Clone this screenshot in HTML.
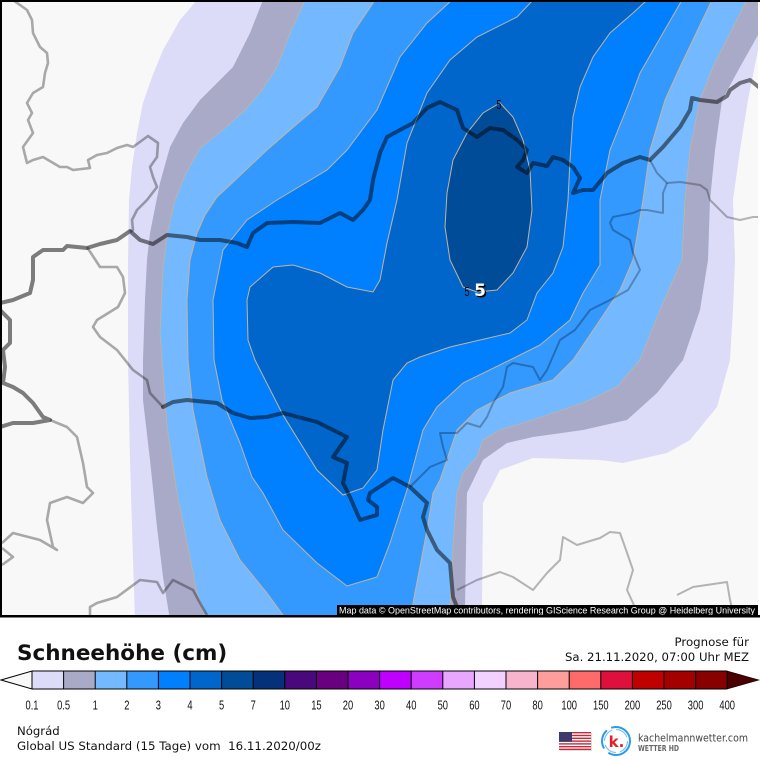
<!DOCTYPE html>
<html><head><meta charset="utf-8"><style>
html,body{margin:0;padding:0;background:#fff;}
svg{display:block;}
</style></head><body>
<svg width="760" height="760" viewBox="0 0 760 760" xmlns="http://www.w3.org/2000/svg">
<defs><clipPath id="mc"><rect x="2" y="2" width="756" height="613"/></clipPath></defs>
<rect x="0" y="0" width="760" height="760" fill="#ffffff"/>
<g clip-path="url(#mc)">
<rect x="0" y="0" width="760" height="620" fill="#f8f8f8"/>
<!-- >0.1 -->
<path fill="#dcdcf8" d="M197,0 L180,20 L163,50 L152,77 L143,103 L137,133 L132,167 L129,200 L128,260 L128,360 L130,460 L133,560 L135,620 L482,620 L482,607 L483,503 L500,470 L533,458 L600,460 L623,463 L667,453 L690,440 L717,407 L730,360 L733,310 L735,260 L733,200 L740,150 L748,100 L758,50 L760,40 L760,0 Z"/>
<!-- >0.5 -->
<path fill="#a9a9c8" d="M263,0 L250,33 L233,67 L200,100 L183,123 L170,147 L160,183 L150,233 L147,260 L145,300 L143,360 L143,400 L150,460 L157,527 L163,577 L170,620 L465,620 L465,607 L467,493 L483,460 L507,443 L533,437 L583,430 L627,420 L657,393 L683,360 L700,310 L708,260 L710,200 L715,150 L722,100 L740,67 L758,35 L760,30 L760,0 Z"/>
<!-- >1 -->
<path fill="#74b9ff" stroke="#c4b49c" stroke-width="0.8" d="M305,0 L290,33 L277,67 L262,90 L245,110 L225,128 L200,148 L185,175 L175,200 L168,230 L163,267 L160,333 L162,360 L167,427 L177,493 L187,543 L197,593 L207,620 L448,620 L450,607 L453,547 L457,493 L463,473 L477,457 L483,440 L500,430 L533,420 L583,403 L617,387 L640,360 L660,310 L682,260 L685,200 L690,150 L700,100 L713,67 L747,0 Z"/>
<!-- >2 -->
<path fill="#3399ff" stroke="#c4b49c" stroke-width="1" d="M375,0 L353,33 L340,67 L317,107 L290,130 L267,150 L230,185 L217,197 L205,215 L197,233 L190,260 L187,300 L188,360 L193,410 L207,477 L220,520 L240,560 L267,593 L283,615 L290,620 L410,620 L413,603 L427,530 L433,493 L440,480 L457,430 L477,410 L510,393 L553,380 L573,360 L600,320 L620,290 L633,260 L643,200 L650,150 L665,100 L680,67 L712,0 Z"/>
<!-- >3 -->
<path fill="#0080ff" stroke="#c4b49c" stroke-width="1" d="M452,0 L427,23 L400,57 L377,110 L347,150 L327,170 L277,200 L247,220 L223,250 L213,300 L214,360 L222,400 L240,443 L252,477 L263,493 L283,530 L317,563 L347,586 L377,577 L390,543 L407,490 L423,430 L437,407 L463,383 L510,360 L540,345 L570,320 L583,293 L600,265 L600,200 L610,150 L630,100 L640,73 L682,0 Z"/>
<!-- >4 -->
<path fill="#0066cc" stroke="#c4b49c" stroke-width="1" d="M533,0 L517,17 L477,37 L450,60 L427,93 L407,143 L397,200 L387,243 L380,280 L373,292 L347,287 L320,273 L293,265 L273,267 L250,287 L247,300 L248,340 L255,360 L283,415 L317,470 L343,495 L363,488 L377,470 L383,430 L393,380 L407,363 L420,357 L450,347 L510,333 L527,320 L537,293 L553,273 L563,247 L568,200 L570,160 L573,117 L580,87 L593,57 L610,33 L633,13 L647,0 Z"/>
<!-- >5 -->
<path fill="#004c99" stroke="#c4b49c" stroke-width="1" d="M500,103 L513,117 L523,140 L530,170 L532,210 L527,247 L513,273 L497,290 L477,292 L463,287 L450,260 L445,227 L447,193 L453,160 L467,133 L483,113 Z"/>

<!-- light county lines -->
<g fill="none" stroke="rgba(0,0,0,0.32)" stroke-width="2.6" stroke-linejoin="round">
<path d="M13,0 L27,10 L32,20 L33,33 L40,47 L47,53 L48,63 L45,73 L43,87 L33,93 L27,103 L32,113 L28,120 L33,133 L23,147 L27,163 L33,160 L43,157 L60,167 L67,167 L73,170 L90,168 L88,160 L97,155 L107,153 L117,148 L127,145 L133,147 L148,136 L158,143 L157,157 L150,167 L153,177 L157,187 L147,200 L137,210 L132,220 L133,230 L130,232"/>
<path d="M87,247 L100,267 L117,267 L123,277 L125,293 L118,307 L97,320 L93,327 L100,337 L117,350 L133,370 L147,380 L150,393 L163,407"/>
<path d="M50,420 L67,427 L77,437 L83,463 L87,487 L93,493 L83,503 L67,497 L50,503 L47,520 L53,547 L57,550 L40,540 L13,533 L2,543"/>
<path d="M2,548 L13,557 L2,565"/>
<path d="M90,620 L90,607 L97,603 L117,597 L140,580 L157,582 L163,593 L173,580 L193,590 L200,603 L207,615"/>
</g>
<g fill="none" stroke="rgba(0,0,0,0.28)" stroke-width="2" stroke-linejoin="round">
<path d="M457,590 L477,580 L500,572 L513,577 L533,590 L547,573 L560,560 L563,537 L577,545 L600,538 L610,532 L620,533 L625,547 L633,570 L627,590 L633,603 L640,620"/>
<path d="M677,595 L693,587 L727,582 L730,600 L735,620"/>
<path d="M650,160 L657,173 L667,183 L680,182 L700,185 L707,190 L710,200 L720,210 L727,217 L740,220 L753,217 L760,217"/>
<path d="M667,183 L663,193 L663,213 L647,210 L640,210 L633,213 L613,217 L610,223 L613,230 L630,240 L633,253 L640,270 L628,290 L610,300 L590,310 L575,330 L560,340 L547,370 L540,380 L533,367 L513,363 L507,367 L503,387 L493,403 L487,417 L480,427 L467,423 L457,433 L440,433 L443,447 L447,460 L430,467 L410,487"/>
</g>
<!-- thick borders -->
<g fill="none" stroke="rgba(0,0,0,0.5)" stroke-width="4" stroke-linejoin="round" stroke-linecap="round">
<path d="M0,303 L13,300 L30,293 L33,280 L33,257 L43,250 L63,250 L67,246 L87,248 L100,244 L117,240 L130,231 L140,240 L153,244 L167,235 L187,237 L200,240 L220,240 L237,243 L247,247 L253,233 L267,223 L293,222 L320,223 L340,213 L353,220 L363,210 L370,200 L373,180 L380,153 L387,137 L400,130 L413,123 L427,108 L440,102 L457,110 L463,128 L477,137 L490,128 L503,130 L517,140 L527,150 L523,160 L517,167 L527,173 L533,163 L547,166 L553,157 L563,160 L573,167 L580,178 L573,193 L583,190 L593,190 L607,173 L623,163 L640,157 L650,160 L663,147 L680,127 L690,110 L692,98 L700,100 L717,102 L727,96 L730,90 L740,83 L750,80 L760,88"/>
<path d="M0,310 L10,320 L10,343 L3,350 L5,367 L3,383 L13,387 L23,393 L33,403 L43,417 L50,420 L33,423 L13,423 L0,427"/>
<path d="M163,407 L173,402 L187,400 L217,403 L233,413 L250,418 L267,417 L283,413 L317,422 L347,437 L333,457 L347,463 L343,483 L350,497 L360,520 L377,515 L377,507 L368,500 L370,493 L393,478 L410,487 L427,503 L423,517 L427,530 L437,550 L450,563 L453,597 L457,607 L460,620"/>
</g>
<!-- labels -->
<text transform="translate(499,109) scale(0.72,1)" font-family="Liberation Sans, sans-serif" font-size="13" text-anchor="middle" fill="#000">5</text>
<text transform="translate(467,296) scale(0.72,1)" font-family="Liberation Sans, sans-serif" font-size="13" text-anchor="middle" fill="#000">5</text>
<text x="481.5" y="297.5" font-family="DejaVu Sans, sans-serif" font-weight="bold" font-size="17" text-anchor="middle" fill="#000">5</text>
<text x="480" y="296" font-family="DejaVu Sans, sans-serif" font-weight="bold" font-size="17" text-anchor="middle" fill="#fff">5</text>
<!-- attribution -->
<rect x="337" y="605" width="423" height="11" fill="#000"/>
<text x="339" y="613.5" font-family="Liberation Sans, sans-serif" font-size="9" fill="#fff" textLength="416" lengthAdjust="spacingAndGlyphs">Map data © OpenStreetMap contributors, rendering GIScience Research Group @ Heidelberg University</text>
</g>
<!-- frame -->
<rect x="0" y="0" width="760" height="2" fill="#000"/>
<rect x="0" y="0" width="2" height="617" fill="#000"/>
<rect x="0" y="615" width="760" height="2.5" fill="#000"/>

<!-- Legend -->
<text x="17" y="660" font-family="DejaVu Sans, sans-serif" font-weight="bold" font-size="21.5" fill="#111">Schneehöhe (cm)</text>
<text x="749" y="646" font-family="DejaVu Sans, sans-serif" font-size="11.8" text-anchor="end" fill="#111">Prognose für</text>
<text x="749" y="661" font-family="DejaVu Sans, sans-serif" font-size="11.8" text-anchor="end" fill="#111" textLength="184" lengthAdjust="spacingAndGlyphs">Sa. 21.11.2020, 07:00 Uhr MEZ</text>

<polygon points="1,680 32,671 32,689" fill="#f8f8f8" stroke="#000" stroke-width="1"/>
<polygon points="727.2,671 759,680 727.2,689" fill="#4a0000" stroke="#000" stroke-width="0.6"/>
<g stroke="none">
<rect x="32" y="671" width="31.6" height="18" fill="#dcdcf8"/>
<rect x="63.6" y="671" width="31.6" height="18" fill="#a9a9c8"/>
<rect x="95.2" y="671" width="31.6" height="18" fill="#74b9ff"/>
<rect x="126.8" y="671" width="31.6" height="18" fill="#3399ff"/>
<rect x="158.4" y="671" width="31.6" height="18" fill="#0080ff"/>
<rect x="190" y="671" width="31.6" height="18" fill="#0066cc"/>
<rect x="221.6" y="671" width="31.6" height="18" fill="#004c99"/>
<rect x="253.2" y="671" width="31.6" height="18" fill="#05307a"/>
<rect x="284.8" y="671" width="31.6" height="18" fill="#4a087d"/>
<rect x="316.4" y="671" width="31.6" height="18" fill="#690080"/>
<rect x="348" y="671" width="31.6" height="18" fill="#8c00c0"/>
<rect x="379.6" y="671" width="31.6" height="18" fill="#bf00ff"/>
<rect x="411.2" y="671" width="31.6" height="18" fill="#d03cff"/>
<rect x="442.8" y="671" width="31.6" height="18" fill="#e8a6ff"/>
<rect x="474.4" y="671" width="31.6" height="18" fill="#f2d0ff"/>
<rect x="506" y="671" width="31.6" height="18" fill="#f8b4cc"/>
<rect x="537.6" y="671" width="31.6" height="18" fill="#ff9c9c"/>
<rect x="569.2" y="671" width="31.6" height="18" fill="#ff6a6a"/>
<rect x="600.8" y="671" width="31.6" height="18" fill="#e0103c"/>
<rect x="632.4" y="671" width="31.6" height="18" fill="#c00000"/>
<rect x="664" y="671" width="31.6" height="18" fill="#a50000"/>
<rect x="695.6" y="671" width="31.6" height="18" fill="#880000"/>
</g>
<g stroke="#000" stroke-width="1" fill="none">
<line x1="32" y1="671" x2="727.2" y2="671"/>
<line x1="32" y1="689" x2="727.2" y2="689"/>
<path d="M32,671V689M63.6,671V689M95.2,671V689M126.8,671V689M158.4,671V689M190,671V689M221.6,671V689M253.2,671V689M284.8,671V689M316.4,671V689M348,671V689M379.6,671V689M411.2,671V689M442.8,671V689M474.4,671V689M506,671V689M537.6,671V689M569.2,671V689M600.8,671V689M632.4,671V689M664,671V689M695.6,671V689M727.2,671V689"/>
</g>
<g font-family="Liberation Sans, sans-serif" font-size="13" fill="#111" text-anchor="middle">
<text transform="translate(32,709.5) scale(0.72,1)">0.1</text>
<text transform="translate(63.6,709.5) scale(0.72,1)">0.5</text>
<text transform="translate(95.2,709.5) scale(0.72,1)">1</text>
<text transform="translate(126.8,709.5) scale(0.72,1)">2</text>
<text transform="translate(158.4,709.5) scale(0.72,1)">3</text>
<text transform="translate(190,709.5) scale(0.72,1)">4</text>
<text transform="translate(221.6,709.5) scale(0.72,1)">5</text>
<text transform="translate(253.2,709.5) scale(0.72,1)">7</text>
<text transform="translate(284.8,709.5) scale(0.72,1)">10</text>
<text transform="translate(316.4,709.5) scale(0.72,1)">15</text>
<text transform="translate(348,709.5) scale(0.72,1)">20</text>
<text transform="translate(379.6,709.5) scale(0.72,1)">30</text>
<text transform="translate(411.2,709.5) scale(0.72,1)">40</text>
<text transform="translate(442.8,709.5) scale(0.72,1)">50</text>
<text transform="translate(474.4,709.5) scale(0.72,1)">60</text>
<text transform="translate(506,709.5) scale(0.72,1)">70</text>
<text transform="translate(537.6,709.5) scale(0.72,1)">80</text>
<text transform="translate(569.2,709.5) scale(0.72,1)">100</text>
<text transform="translate(600.8,709.5) scale(0.72,1)">150</text>
<text transform="translate(632.4,709.5) scale(0.72,1)">200</text>
<text transform="translate(664,709.5) scale(0.72,1)">250</text>
<text transform="translate(695.6,709.5) scale(0.72,1)">300</text>
<text transform="translate(727.2,709.5) scale(0.72,1)">400</text>
</g>

<text x="17" y="735" font-family="DejaVu Sans, sans-serif" font-size="11.7" fill="#111">Nógrád</text>
<text x="17" y="750" font-family="DejaVu Sans, sans-serif" font-size="11.7" fill="#111" xml:space="preserve" textLength="304" lengthAdjust="spacingAndGlyphs">Global US Standard (15 Tage) vom  16.11.2020/00z</text>

<!-- US flag -->
<g>
<rect x="560" y="733" width="32" height="18" fill="#bbb" opacity="0.5"/>
<rect x="559" y="732" width="32" height="18" fill="#fff"/>
<g fill="#c8283c">
<rect x="559" y="732" width="32" height="1.4"/>
<rect x="559" y="734.8" width="32" height="1.4"/>
<rect x="559" y="737.6" width="32" height="1.4"/>
<rect x="559" y="740.4" width="32" height="1.4"/>
<rect x="559" y="743.2" width="32" height="1.4"/>
<rect x="559" y="746" width="32" height="1.4"/>
<rect x="559" y="748.6" width="32" height="1.4"/>
</g>
<rect x="559" y="732" width="13" height="9.8" fill="#3c3b6e"/>
</g>

<!-- logo -->
<g>
<circle cx="616" cy="741" r="14" fill="none" stroke="#2a9be8" stroke-width="2" stroke-dasharray="30 6 20 5"/>
<circle cx="616" cy="741" r="11.5" fill="none" stroke="#7cc4f4" stroke-width="1.2" stroke-dasharray="14 4"/>
<circle cx="616" cy="741" r="10" fill="#fff"/>
<text x="616.5" y="747" font-family="DejaVu Sans, sans-serif" font-weight="bold" font-size="15" text-anchor="middle" fill="#e0202a">k.</text>
</g>
<text x="638" y="741.5" font-family="DejaVu Sans, sans-serif" font-size="10.5" fill="#444" textLength="110" lengthAdjust="spacingAndGlyphs">kachelmannwetter.com</text>
<text x="638" y="751" font-family="DejaVu Sans, sans-serif" font-weight="bold" font-size="7.5" fill="#666" textLength="41" lengthAdjust="spacingAndGlyphs">WETTER HD</text>
</svg>
</body></html>
